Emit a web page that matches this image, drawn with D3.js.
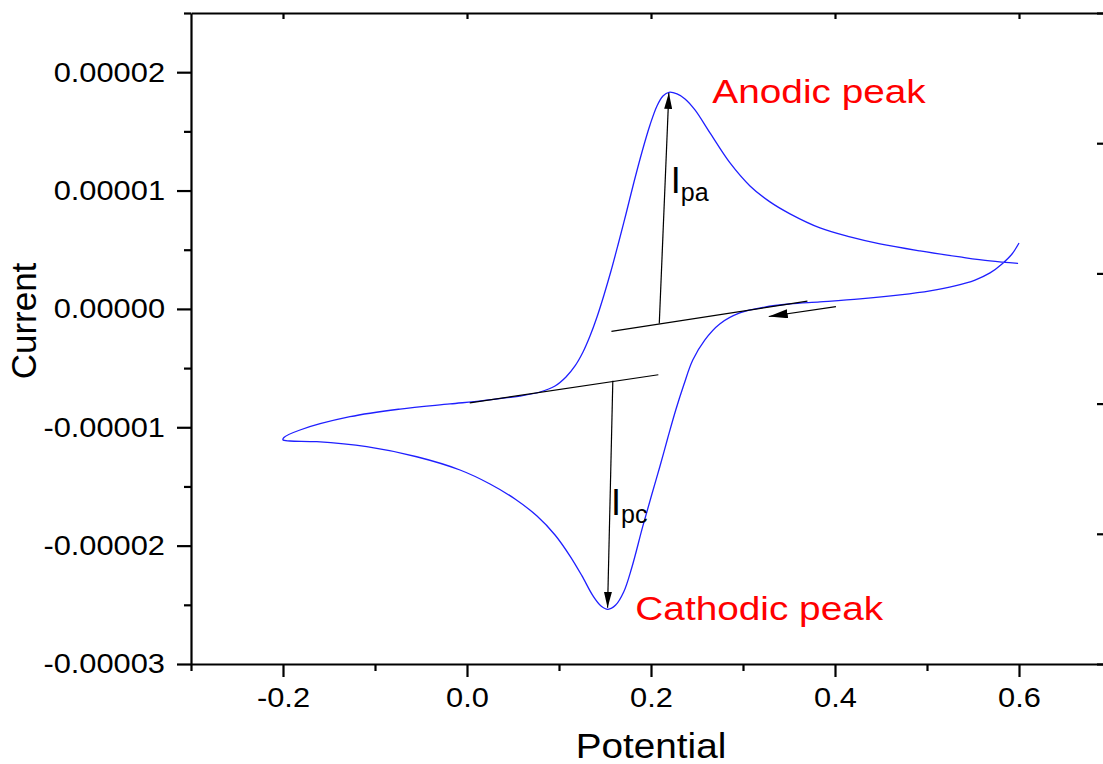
<!DOCTYPE html>
<html>
<head>
<meta charset="utf-8">
<script src="https://cdn.jsdelivr.net/npm/d3@7"></script>
<style>
  html, body { margin: 0; padding: 0; background: #fff; }
  svg { display: block; }
  text { font-family: "Liberation Sans", Arial, sans-serif; }
</style>
</head>
<body>
<svg id="chart" width="1103" height="764"></svg>
<script>
// Cyclic voltammogram: potential (V) and current (µA) along each sweep.
// Reverse (cathodic) sweep, 0.6 V down to -0.2 V
const reverseE = [0.600, 0.5924, 0.5815, 0.5685, 0.5522, 0.5304, 0.5033, 0.4707, 0.4272, 0.3837,
  0.3511, 0.3236, 0.2965, 0.2747, 0.2584, 0.2454, 0.2356, 0.2269, 0.2182, 0.2095,
  0.2007, 0.1909, 0.1790, 0.1703, 0.1616, 0.1533, 0.1457, 0.1370, 0.1250, 0.1120,
  0.0957, 0.0761, 0.0522, 0.0250, -0.0076, -0.0547, -0.109, -0.1633, -0.1924, -0.200];
const reverseI = [5.57, 4.64, 3.80, 3.04, 2.44, 1.94, 1.52, 1.18, 0.84, 0.59,
  0.42, 0.16, -0.34, -1.27, -2.63, -4.32, -6.43, -8.54, -10.91, -13.36,
  -15.72, -18.42, -21.89, -23.92, -25.02, -25.38, -25.10, -24.25, -22.56, -20.88,
  -19.10, -17.50, -16.06, -14.79, -13.61, -12.49, -11.64, -11.22, -11.16, -11.07];
// Forward (anodic) sweep, -0.2 V up to 0.6 V
const forwardE = [-0.199, -0.1815, -0.1272, -0.0728, -0.0185, 0.0174, 0.0576, 0.0793, 0.0957, 0.1076,
  0.1174, 0.1261, 0.1337, 0.1413, 0.1489, 0.1565, 0.1641, 0.1728, 0.1815, 0.1902,
  0.1989, 0.2065, 0.2130, 0.2196, 0.2283, 0.2370, 0.2478, 0.2641, 0.2859, 0.3076,
  0.3293, 0.3511, 0.3837, 0.4163, 0.4489, 0.4924, 0.5359, 0.5685, 0.599];
const forwardI = [-10.86, -10.23, -9.11, -8.46, -8.03, -7.75, -7.36, -7.02, -6.51, -5.75,
  -4.82, -3.64, -2.29, -0.68, 1.18, 3.20, 5.40, 8.02, 10.72, 13.26,
  15.54, 17.15, 17.99, 18.30, 18.16, 17.74, 16.81, 14.87, 12.33, 10.39,
  9.04, 8.03, 6.84, 6.08, 5.49, 4.90, 4.39, 4.05, 3.84];

// Axis ticks
const xTicks = [-0.2, 0.0, 0.2, 0.4, 0.6];
const xMinorTicks = [-0.3, -0.1, 0.1, 0.3, 0.5, 0.7];
const yTicks = [-0.00003, -0.00002, -0.00001, 0, 0.00001, 0.00002];
const yMinorTicks = [-0.000025, -0.000015, -0.000005, 0.000005, 0.000015, 0.000025];
const rightTicks = [0, 1, 2, 3, 4, 5];

// Peak construction lines: [E, I(µA)] pairs
const anodicBaseline = [[0.157, -1.90], [0.370, 0.65]];
const anodicArrow = [[0.209, -1.23], [0.2194, 18.25]];
const cathodicBaseline = [[0.003, -7.94], [0.208, -5.56]];
const cathodicArrow = [[0.1585, -6.07], [0.1528, -25.25]];
const scanArrow = [[0.401, 0.20], [0.328, -0.64]];

const toAmp = v => v * 1e-6;

const svg = d3.select("#chart");
const plotLeft = 191, plotRight = 1111, plotTop = 13, plotBottom = 664;

const x = d3.scaleLinear().domain([-0.3, 0.7]).range([plotLeft, plotRight]);
const y = d3.scaleLinear().domain([-0.00003, 0.000025]).range([plotBottom, plotTop]);
const yRight = d3.scaleLinear().domain([0, 5]).range([plotBottom, plotTop]);

// Widen glyphs horizontally by factor k (keeps the text-anchor)
function stretch(sel, k) {
  sel.each(function () {
    const w = this.getComputedTextLength();
    d3.select(this).attr("textLength", w * k).attr("lengthAdjust", "spacingAndGlyphs");
  });
}

const defs = svg.append("defs");
defs.append("marker")
  .attr("id", "head")
  .attr("viewBox", "0 0 16 8")
  .attr("refX", 16).attr("refY", 4)
  .attr("markerWidth", 16).attr("markerHeight", 8)
  .attr("markerUnits", "userSpaceOnUse")
  .attr("orient", "auto")
  .append("path").attr("d", "M0,0 L16,4 L0,8 Z").attr("fill", "#000");
defs.append("marker")
  .attr("id", "headScan")
  .attr("viewBox", "0 0 19 9")
  .attr("refX", 19).attr("refY", 4.5)
  .attr("markerWidth", 19).attr("markerHeight", 9)
  .attr("markerUnits", "userSpaceOnUse")
  .attr("orient", "auto")
  .append("path").attr("d", "M0,0 L19,4.5 L0,9 Z").attr("fill", "#000");

// Axes
const hyphen = f => v => f(v).replace("\u2212", "-");
const fmtX = hyphen(d3.format(".1f"));
const fmtY = hyphen(d3.format(".5f"));

svg.append("g").attr("transform", `translate(0,${plotBottom})`)
  .call(d3.axisBottom(x).tickValues(xTicks).tickFormat(fmtX).tickSizeInner(13).tickSizeOuter(0).tickPadding(10));
svg.append("g").attr("transform", `translate(0,${plotBottom})`)
  .call(d3.axisBottom(x).tickValues(xMinorTicks).tickFormat("").tickSizeInner(7).tickSizeOuter(0))
  .select(".domain").remove();

svg.append("g").attr("transform", `translate(${plotLeft},0)`)
  .call(d3.axisLeft(y).tickValues(yTicks).tickFormat(fmtY).tickSizeInner(14).tickSizeOuter(0).tickPadding(12));
svg.append("g").attr("transform", `translate(${plotLeft},0)`)
  .call(d3.axisLeft(y).tickValues(yMinorTicks).tickFormat("").tickSizeInner(7).tickSizeOuter(0))
  .select(".domain").remove();

svg.append("g").attr("transform", `translate(0,${plotTop})`)
  .call(d3.axisTop(x).tickValues(xTicks).tickFormat("").tickSizeInner(-6).tickSizeOuter(0));

svg.append("g").attr("transform", `translate(${plotRight},0)`)
  .call(d3.axisRight(yRight).tickValues(rightTicks).tickFormat("").tickSizeInner(-14).tickSizeOuter(0));

svg.selectAll(".domain").attr("stroke", "#000").attr("stroke-width", 2.2);
svg.selectAll(".tick line").attr("stroke", "#000").attr("stroke-width", 2.2);
const tickText = svg.selectAll(".tick text").attr("font-size", 28).attr("fill", "#000")
  .style("font-family", "'Liberation Sans', Arial, sans-serif");
stretch(tickText, 1.1);

// Axis titles
stretch(svg.append("text").attr("x", 651).attr("y", 758).attr("text-anchor", "middle")
  .attr("font-size", 35).text("Potential"), 1.105);
svg.append("text").attr("transform", "translate(36,321) rotate(-90)")
  .attr("text-anchor", "middle").attr("font-size", 35).text("Current");

// Voltammogram
const pts = reverseE.map((e, i) => [e, toAmp(reverseI[i])])
  .concat(forwardE.map((e, i) => [e, toAmp(forwardI[i])]));
const line = d3.line().x(d => x(d[0])).y(d => y(d[1])).curve(d3.curveCatmullRom.alpha(0.5));
svg.append("path").datum(pts).attr("d", line)
  .attr("fill", "none").attr("stroke", "#1f1fff").attr("stroke-width", 1.3);

// Construction lines and arrows
const seg = (p, marker) => {
  const el = svg.append("line")
    .attr("x1", x(p[0][0])).attr("y1", y(toAmp(p[0][1])))
    .attr("x2", x(p[1][0])).attr("y2", y(toAmp(p[1][1])))
    .attr("stroke", "#000").attr("stroke-width", 1.2);
  if (marker) el.attr("marker-end", `url(#${marker})`);
};
seg(anodicBaseline);
seg(cathodicBaseline);
seg(anodicArrow, "head");
seg(cathodicArrow, "head");
seg(scanArrow, "headScan");

// Labels
stretch(svg.append("text").attr("x", x(0.2667)).attr("y", y(toAmp(17.4)))
  .attr("font-size", 34).attr("fill", "#ff0000").text("Anodic peak"), 1.14);
stretch(svg.append("text").attr("x", x(0.183)).attr("y", y(toAmp(-26.3)))
  .attr("font-size", 34).attr("fill", "#ff0000").text("Cathodic peak"), 1.14);

const ipa = svg.append("text").attr("x", x(0.2215)).attr("y", y(toAmp(9.8))).attr("font-size", 36);
ipa.append("tspan").text("I");
ipa.append("tspan").attr("font-size", 25).attr("dy", 8).text("pa");
const ipc = svg.append("text").attr("x", x(0.1565)).attr("y", y(toAmp(-17.4))).attr("font-size", 36);
ipc.append("tspan").text("I");
ipc.append("tspan").attr("font-size", 25).attr("dy", 8).text("pc");
</script>
</body>
</html>
